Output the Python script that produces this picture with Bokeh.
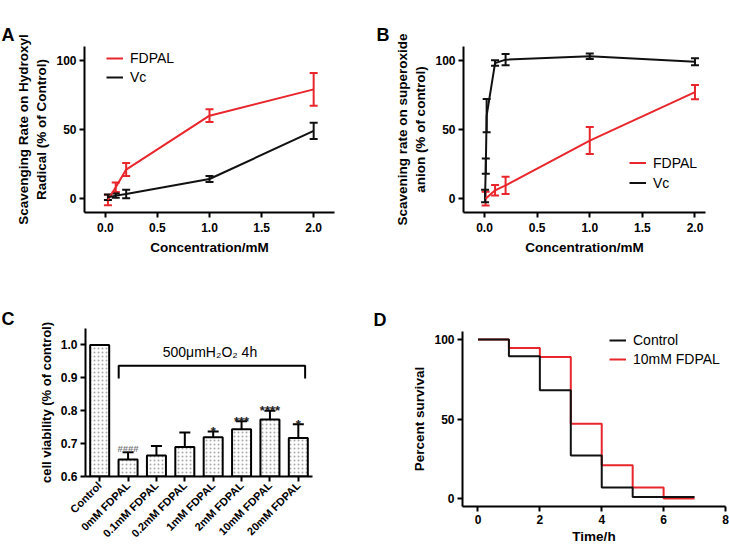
import math
from bokeh.plotting import figure
from bokeh.models import (ColumnDataSource, Whisker, TeeHead, Label, FixedTicker,
                          Range1d, Legend, LegendItem, NumeralTickFormatter, Title)
from bokeh.layouts import row, column
from bokeh.embed import file_html
from bokeh.resources import INLINE
from bokeh.core.properties import value

FONT = "Liberation Sans"
RED = "#e8262b"
BLACK = "#111111"

# ---------------- data ----------------
# Panel A: hydroxyl radical scavenging
conc_a = [0.025, 0.1, 0.2, 1.0, 2.0]
a_fdpal = [-1.0, 8.2, 21.0, 60.0, 79.0]
a_fdpal_err = [3.8, 3.4, 4.7, 4.6, 11.9]
a_vc = [1.0, 2.2, 3.4, 14.2, 49.0]
a_vc_err = [2.0, 1.5, 3.1, 2.2, 5.8]

# Panel B: superoxide anion scavenging
conc_b_fdpal = [0.01, 0.1, 0.2, 1.0, 2.0]
b_fdpal = [0.0, 6.0, 9.6, 42.0, 77.0]
b_fdpal_err = [5.0, 3.8, 6.3, 9.8, 5.2]
conc_b_vc = [0.005, 0.012, 0.02, 0.1, 0.2, 1.0, 2.0]
b_vc = [2.0, 23.5, 60.0, 98.0, 100.5, 103.0, 99.0]
b_vc_err = [4.5, 5.5, 12.0, 2.0, 4.0, 2.0, 2.5]

# Panel C: cell viability
c_groups = ["Control", "0mM FDPAL", "0.1mM FDPAL", "0.2mM FDPAL",
            "1mM FDPAL", "2mM FDPAL", "10mM FDPAL", "20mM FDPAL"]
c_viab = [1.0, 0.652, 0.664, 0.690, 0.719, 0.744, 0.773, 0.717]
c_err = [0.0, 0.022, 0.029, 0.044, 0.018, 0.024, 0.027, 0.042]
c_hash = ["", "####", "", "", "", "", "", ""]
c_star = ["", "", "", "", "*", "***", "****", "*"]
c_bracket_text = "500\u03bcmH\u2082O\u2082  4h"

# Panel D: survival
d_time = [0, 1, 2, 3, 4, 5, 6, 7]
d_control = [100, 89.5, 68, 27, 7, 1, 1, 1]
d_fdpal = [100, 94.7, 89, 47, 21, 7, 0, 0]


def make_fig(width, height, xr, yr, left, right, top, bottom):
    p = figure(width=width, height=height, x_range=Range1d(*xr), y_range=Range1d(*yr),
               output_backend="svg", toolbar_location=None,
               min_border_left=left, min_border_right=right,
               min_border_top=top, min_border_bottom=bottom)
    p.outline_line_color = None
    p.xgrid.visible = False
    p.ygrid.visible = False
    p.background_fill_color = "white"
    p.border_fill_color = "white"
    for ax in list(p.xaxis) + list(p.yaxis):
        ax.axis_line_width = 2
        ax.axis_line_color = "black"
        ax.major_tick_line_width = 2
        ax.major_tick_line_color = "black"
        ax.major_tick_out = 5
        ax.major_tick_in = 0
        ax.minor_tick_line_color = None
        ax.major_label_text_font = FONT
        ax.major_label_text_font_style = "bold"
        ax.major_label_text_font_size = "12px"
        ax.major_label_text_color = "black"
        ax.axis_label_text_font = FONT
        ax.axis_label_text_font_style = "bold"
        ax.axis_label_text_font_size = "13.5px"
        ax.axis_label_text_color = "black"
    p.xaxis.major_label_standoff = 5
    p.yaxis.major_label_standoff = 3
    p.xaxis.axis_label_standoff = 5
    p.yaxis.axis_label_standoff = 4
    return p


def letter_title(p, letter, offset, standoff):
    p.title.text = letter
    p.title.text_font = FONT
    p.title.text_font_style = "bold"
    p.title.text_font_size = "18px"
    p.title.text_color = "black"
    p.title.align = "left"
    p.title.offset = offset
    p.title.standoff = standoff


def letter_top(p, letter, offset, spacer_standoff):
    # an undrawn spacer title next to the frame, then the letter above it (outermost)
    p.add_layout(Title(text=letter, text_font=FONT, text_font_size="12px", text_color=None,
                       standoff=spacer_standoff, align="left"), "above")
    p.add_layout(Title(text=letter, text_font=FONT, text_font_style="bold",
                       text_font_size="18px", text_color="black", align="left",
                       offset=offset, standoff=0, vertical_align="top"), "above")


def err_series(p, xs, ys, es, color):
    src = ColumnDataSource(dict(x=xs, lo=[y - e for y, e in zip(ys, es)],
                                up=[y + e for y, e in zip(ys, es)]))
    w = Whisker(source=src, base="x", lower="lo", upper="up", dimension="height",
                line_color=color, line_width=2,
                upper_head=TeeHead(size=8, line_color=color, line_width=2),
                lower_head=TeeHead(size=8, line_color=color, line_width=2))
    p.add_layout(w)


def style_legend(leg, size="14px", gh=16, spacing=3):
    leg.label_text_font = FONT
    leg.label_text_font_size = size
    leg.label_text_color = "black"
    leg.glyph_width = 17
    leg.glyph_height = gh
    leg.label_height = gh
    leg.spacing = spacing
    leg.padding = 0
    leg.margin = 0
    leg.label_standoff = 7
    leg.border_line_color = None
    leg.background_fill_alpha = 0


# ---------------- Panel A ----------------
pA = make_fig(360, 270, (-0.2, 2.2), (-10, 110), 84, 26, 46, 58)
letter_top(pA, "A", -83, 5)
pA.xaxis.ticker = FixedTicker(ticks=[0, 0.5, 1.0, 1.5, 2.0])
pA.xaxis.formatter = NumeralTickFormatter(format="0.0")
pA.yaxis.ticker = FixedTicker(ticks=[0, 50, 100])
pA.xaxis.axis_label = "Concentration/mM"
pA.yaxis.axis_label = "Scavenging Rate on Hydroxyl\nRadical (% of Control)"
err_series(pA, conc_a, a_fdpal, a_fdpal_err, RED)
err_series(pA, conc_a, a_vc, a_vc_err, BLACK)
rA1 = pA.line(conc_a, a_fdpal, line_color=RED, line_width=2)
rA2 = pA.line(conc_a, a_vc, line_color=BLACK, line_width=2)
legA = Legend(items=[LegendItem(label="FDPAL", renderers=[rA1]),
                     LegendItem(label="Vc", renderers=[rA2])], location=(22, 127))
style_legend(legA)
pA.add_layout(legA)

# ---------------- Panel B ----------------
pB = make_fig(369, 270, (-0.2, 2.1), (-10, 110), 103, 24, 46, 58)
letter_top(pB, "B", -87, 5)
pB.xaxis.ticker = FixedTicker(ticks=[0, 0.5, 1.0, 1.5, 2.0])
pB.xaxis.formatter = NumeralTickFormatter(format="0.0")
pB.yaxis.ticker = FixedTicker(ticks=[0, 50, 100])
pB.xaxis.axis_label = "Concentration/mM"
pB.yaxis.axis_label = "Scavening rate on superoxide\nanion (% of control)"
err_series(pB, conc_b_fdpal, b_fdpal, b_fdpal_err, RED)
err_series(pB, conc_b_vc, b_vc, b_vc_err, BLACK)
rB1 = pB.line(conc_b_fdpal, b_fdpal, line_color=RED, line_width=2)
rB2 = pB.line(conc_b_vc, b_vc, line_color=BLACK, line_width=2)
legB = Legend(items=[LegendItem(label="FDPAL", renderers=[rB1]),
                     LegendItem(label="Vc", renderers=[rB2])], location=(166, 21))
style_legend(legB, gh=17, spacing=3)
pB.add_layout(legB)

# ---------------- Panel C ----------------
pC = make_fig(360, 276, (0, 8), (0.6, 1.05), 85, 48, 58, 67)
letter_title(pC, "C", -84, 0)
c_x = [i + 0.5 for i in range(len(c_groups))]
pC.xaxis.ticker = FixedTicker(ticks=c_x)
pC.xaxis.major_label_overrides = {x: g for x, g in zip(c_x, c_groups)}
pC.xaxis.major_label_orientation = math.pi / 4
pC.xaxis.major_label_text_font_size = "11px"
pC.xaxis.major_label_standoff = 2
pC.yaxis.ticker = FixedTicker(ticks=[0.6, 0.7, 0.8, 0.9, 1.0])
pC.yaxis.formatter = NumeralTickFormatter(format="0.0")
pC.yaxis.axis_label = "cell viability (% of control)"
pC.yaxis.axis_label_text_font_size = "13px"
srcC = ColumnDataSource(dict(x=c_x, top=c_viab))
pC.vbar(x="x", top="top", bottom=0, width=0.67, source=srcC,
        fill_color="white", line_color="black", line_width=2,
        hatch_pattern="dot", hatch_color="#a8a8a8", hatch_scale=4, hatch_weight=1)
ex = [x for x, e in zip(c_x, c_err) if e > 0]
elo = [v for v, e in zip(c_viab, c_err) if e > 0]
eup = [v + e for v, e in zip(c_viab, c_err) if e > 0]
srcCe = ColumnDataSource(dict(x=ex, lo=elo, up=eup))
pC.add_layout(Whisker(source=srcCe, base="x", lower="lo", upper="up", dimension="height",
                      line_color="black", line_width=2, lower_head=None,
                      upper_head=TeeHead(size=11, line_color="black", line_width=2)))
srcCt = ColumnDataSource(dict(x=c_x, y=[v + e for v, e in zip(c_viab, c_err)],
                              h=c_hash, s=c_star))
pC.text(x="x", y="y", text="h", source=srcCt, text_align="center", text_baseline="alphabetic",
        y_offset=-4, text_font=value(FONT), text_font_size="9.5px", text_font_style="bold",
        text_color="#7a7a7a")
pC.text(x="x", y="y", text="s", source=srcCt, text_align="center", text_baseline="alphabetic",
        y_offset=0, text_font=value(FONT), text_font_size="13px", text_font_style="bold",
        text_color="#222222")
# bracket over treated groups
b_left = c_x[1] - 0.33
b_right = c_x[-1] + 0.24
pC.line(x=[b_left, b_left, b_right, b_right], y=[0.898, 0.937, 0.937, 0.898],
        line_color="black", line_width=2)
pC.add_layout(Label(x=(b_left + b_right) / 2, y=0.98, text=c_bracket_text,
                    text_font=FONT, text_font_size="14px", text_align="center",
                    text_baseline="middle", text_color="black"))

# ---------------- Panel D ----------------
pD = make_fig(369, 276, (-0.5, 8.0), (-5, 105), 102, 4, 61, 39)
letter_title(pD, "D", -89, 4)
pD.xaxis.ticker = FixedTicker(ticks=[0, 2, 4, 6, 8])
pD.yaxis.ticker = FixedTicker(ticks=[0, 50, 100])
pD.xaxis.axis_label = "Time/h"
pD.yaxis.axis_label = "Percent survival"
pD.xaxis.major_label_standoff = 3
pD.xaxis.axis_label_standoff = 2
rD2 = pD.step(d_time, d_fdpal, mode="after", line_color=RED, line_width=2)
rD1 = pD.step(d_time, d_control, mode="after", line_color=BLACK, line_width=2)
legD = Legend(items=[LegendItem(label="Control", renderers=[rD1]),
                     LegendItem(label="10mM FDPAL", renderers=[rD2])], location=(147, 139))
style_legend(legD, gh=16, spacing=3)
pD.add_layout(legD)

# D wrapped in its own column so its frame is not aligned with panel C's frame
layout = column(row(pA, pB), row(pC, column(pD)))
open("out.html", "w").write(file_html(layout, INLINE))
